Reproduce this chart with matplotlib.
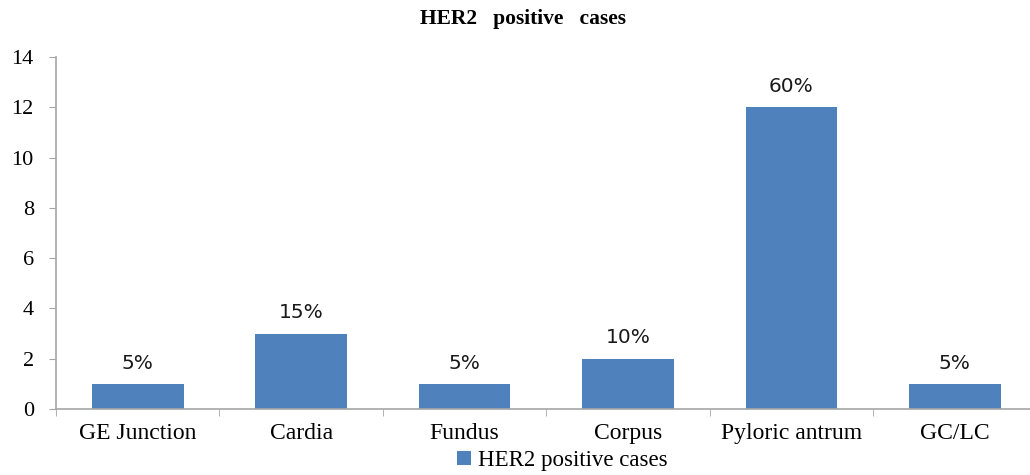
import numpy as np
import matplotlib
matplotlib.use('Agg')
import matplotlib.pyplot as plt

# Data
sites = ["GE Junction", "Cardia", "Fundus", "Corpus", "Pyloric antrum", "GC/LC"]
cases = [1, 3, 1, 2, 12, 1]
percent_labels = ["5%", "15%", "5%", "10%", "60%", "5%"]
y_ticks = [0, 2, 4, 6, 8, 10, 12, 14]

BAR_COLOR = "#4F81BD"
AXIS_COLOR = "#A6A6A6"
SERIF = "Liberation Serif"


def main():
    fig = plt.figure(figsize=(10.3, 4.75), dpi=100)
    ax = fig.add_axes([0.0544, 0.139, 0.952, 0.741])

    x = np.arange(len(sites))
    bars = ax.bar(x, cases, width=0.56, color=BAR_COLOR, label="HER2 positive cases",
                  zorder=2)

    # Percent labels above bars
    for rect, lab in zip(bars, percent_labels):
        ax.text(rect.get_x() + rect.get_width() / 2, rect.get_height() + 0.45, lab,
                ha="center", va="bottom", fontsize=14.5, family="DejaVu Sans",
                color="#1a1a1a")

    ax.set_xlim(-0.5, len(sites) - 0.5)
    ax.set_ylim(0, 14)
    ax.set_yticks(y_ticks)
    ax.set_yticklabels([str(v) for v in y_ticks], family=SERIF, fontsize=16)

    ax.set_xticks(x)
    ax.set_xticklabels(sites, family=SERIF, fontsize=17)
    ax.tick_params(axis="x", which="major", length=0, pad=10)
    ax.set_xticks(np.arange(len(sites) + 1) - 0.5, minor=True)
    ax.tick_params(axis="x", which="minor", length=5, color=AXIS_COLOR)
    ax.tick_params(axis="y", length=5, color=AXIS_COLOR, pad=11)

    for side in ["top", "right"]:
        ax.spines[side].set_visible(False)
    for side in ["left", "bottom"]:
        ax.spines[side].set_color(AXIS_COLOR)
        ax.spines[side].set_linewidth(1.2)

    fig.text(0.508, 0.96, "HER2   positive   cases", ha="center", va="center",
             family=SERIF, fontsize=15.5, fontweight="bold")

    fig.legend(loc="center", bbox_to_anchor=(0.546, 0.03), frameon=False,
               prop={"family": SERIF, "size": 16.5}, handlelength=0.6,
               handleheight=0.6, handletextpad=0.3, borderpad=0.1)

    fig.savefig("out.png", dpi=100)
    plt.close(fig)


if __name__ == "__main__":
    main()
